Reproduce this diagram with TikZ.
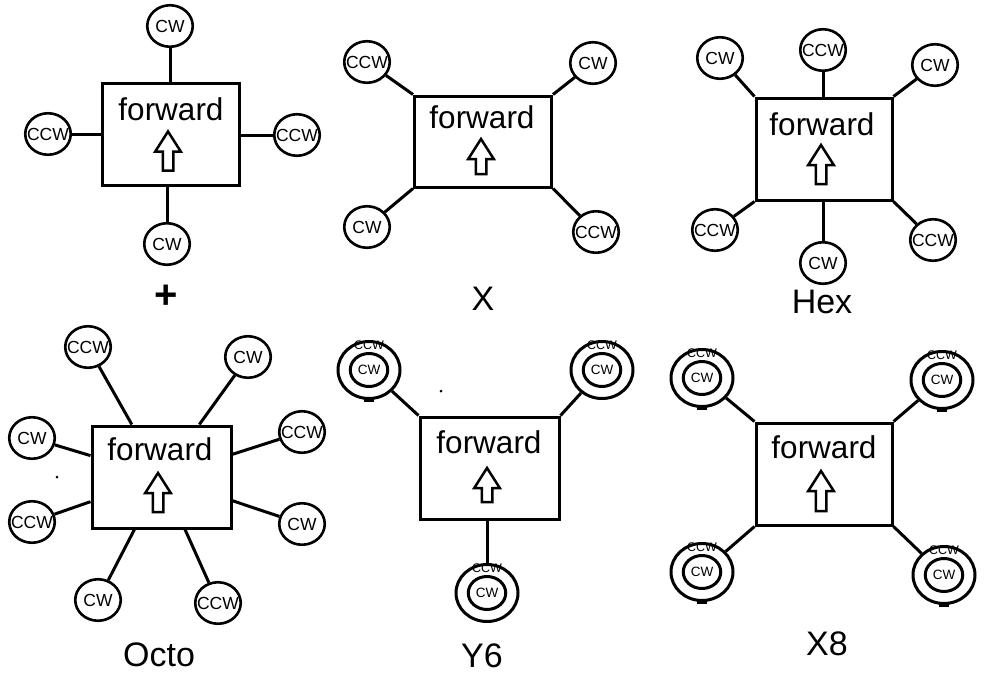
\documentclass[tikz,border=0pt]{standalone}
\usepackage{fontspec}
\setmainfont{Liberation Sans}
\usetikzlibrary{shapes.geometric,calc}
\newcommand{\fwdarrow}[3]{%
  \draw[arrowline] (#1,#2) -- ++(12.75,20) -- ++(-7.5,0) -- ++(0,#3-20) -- ++(-10.5,0) -- ++(0,20-#3) -- ++(-7.5,0) -- cycle;}
\newcommand{\coaxrotor}[2]{%
  \node[coaxout] (#1) at (#2) {};
  \node[coaxin] (#1in) at (#2) {CW};
  \node[smalltxt] (#1ccw) at ($(#2)+(0,-25)$) {CCW};}
\newcommand{\notch}[1]{%
  \fill ($(#1.south)+(-5,-1.5)$) rectangle ($(#1.south)+(5,2.3)$);}
\begin{document}
\begin{tikzpicture}[x=1pt,y=-1pt,
  frame/.style={draw, rectangle, line width=3pt, minimum width=137pt, minimum height=102pt, inner sep=0pt},
  link/.style={line width=3pt},
  arrowline/.style={line width=2.5pt, line join=miter},
  fwd/.style={anchor=base, inner sep=0pt, font=\fontsize{31.5}{34}\selectfont},
  rtxt/.style={inner sep=0pt, font=\fontsize{17.5}{19}\selectfont},
  rotor/.style={draw, ellipse, line width=2.6pt, minimum width=45.5pt, minimum height=41.5pt, inner sep=0pt, label={[rtxt]center:#1}},
  coaxout/.style={draw, ellipse, line width=3pt, minimum width=62pt, minimum height=57pt, inner sep=0pt},
  coaxin/.style={draw, ellipse, line width=3pt, minimum width=37.5pt, minimum height=33pt, inner sep=0pt, font=\fontsize{13.5}{15}\selectfont},
  smalltxt/.style={inner sep=0pt, font=\fontsize{12.5}{14}\selectfont},
  title/.style={anchor=base, inner sep=0pt, font=\fontsize{34}{38}\selectfont}
]
\useasboundingbox (0,0) rectangle (986,678);
\fill[white] (0,0) rectangle (986,678);

% ---------- + ----------
\node[frame] (pb) at (171,134.5) {};
\node[fwd] (pf) at (171,120) {forward};
\fwdarrow{168}{131.5}{39}
\node[rotor=CW] (p1) at (170,26) {};
\node[rotor=CCW] (p2) at (48,134) {};
\node[rotor=CCW] (p3) at (297,135) {};
\node[rotor=CW] (p4) at (167,244) {};
\draw[link] (p1) -- (p1 |- pb.north);
\draw[link] (p2) -- (p2 -| pb.west);
\draw[link] (p3) -- (p3 -| pb.east);
\draw[link] (p4) -- (p4 |- pb.south);
\node[anchor=center, inner sep=0pt, font=\fontsize{40}{44}\selectfont\bfseries] (tplus) at (166,297) {+};

% ---------- X ----------
\node[frame, minimum height=91pt] (xb) at (483,141.5) {};
\node[fwd] (xf) at (482,128) {forward};
\fwdarrow{481}{139}{35}
\node[rotor=CCW] (x1) at (367,62) {};
\node[rotor=CW] (x2) at (593,63) {};
\node[rotor=CW] (x3) at (367,227) {};
\node[rotor=CCW] (x4) at (596,232) {};
\draw[link] (x1) -- (xb.north west);
\draw[link] (x2) -- (xb.north east);
\draw[link] (x3) -- (xb.south west);
\draw[link] (x4) -- (xb.south east);
\node[title] (tx) at (483,310) {X};

% ---------- Hex ----------
\node[frame, minimum width=136pt] (hb) at (824,149) {};
\node[fwd] (hf) at (822,135) {forward};
\fwdarrow{821}{145}{39}
\node[rotor=CW] (h1) at (720,58) {};
\node[rotor=CCW] (h2) at (823,50) {};
\node[rotor=CW] (h3) at (935,65) {};
\node[rotor=CCW] (h4) at (715,230) {};
\node[rotor=CW] (h5) at (823,263) {};
\node[rotor=CCW] (h6) at (933,240) {};
\draw[link] (h1) -- (hb.north west);
\draw[link] (h2) -- (h2 |- hb.north);
\draw[link] (h3) -- (hb.north east);
\draw[link] (h4) -- (hb.south west);
\draw[link] (h5) -- (h5 |- hb.south);
\draw[link] (h6) -- (hb.south east);
\node[title] (thex) at (822,313) {Hex};

% ---------- Octo ----------
\node[frame, minimum width=139pt] (ob) at (161.5,477) {};
\node[fwd] (of) at (160,460) {forward};
\fwdarrow{158}{473}{39}
\node[rotor=CCW] (o1) at (88,347) {};
\node[rotor=CW] (o2) at (248,357) {};
\node[rotor=CW] (o3) at (32,438) {};
\node[rotor=CCW] (o4) at (302,432) {};
\node[rotor=CCW] (o5) at (32,522) {};
\node[rotor=CW] (o6) at (302,524) {};
\node[rotor=CW] (o7) at (98,600) {};
\node[rotor=CCW] (o8) at (218,603) {};
\foreach \r in {o1,o2,o3,o4,o5,o6,o7,o8} {\draw[link] (\r) -- (ob);}
\fill (57,477) circle (1.5);
\node[title] (tocto) at (159,666) {Octo};

% ---------- Y6 ----------
\node[frame, minimum width=139pt] (yb) at (489.5,468) {};
\node[fwd] (yf) at (489,453) {forward};
\fwdarrow{487}{468}{34}
\coaxrotor{y1}{369,370}
\coaxrotor{y2}{602,370}
\coaxrotor{y3}{487,593}
\notch{y1}
\draw[link] (y1) -- (yb.north west);
\draw[link] (y2) -- (yb.north east);
\draw[link] (y3) -- (y3 |- yb.south);
\fill (441,391) circle (1.5);
\node[title] (ty6) at (482,667) {Y6};

% ---------- X8 ----------
\node[frame, minimum width=136pt] (eb) at (824,474) {};
\node[fwd] (ef) at (824,458) {forward};
\fwdarrow{821}{471}{40}
\coaxrotor{e1}{702,378}
\coaxrotor{e2}{942,380}
\coaxrotor{e3}{702,572}
\coaxrotor{e4}{944,575}
\notch{e1}\notch{e2}\notch{e3}\notch{e4}
\draw[link] (e1) -- (eb.north west);
\draw[link] (e2) -- (eb.north east);
\draw[link] (e3) -- (eb.south west);
\draw[link] (e4) -- (eb.south east);
\node[title] (tx8) at (827,655) {X8};
\end{tikzpicture}
\end{document}
